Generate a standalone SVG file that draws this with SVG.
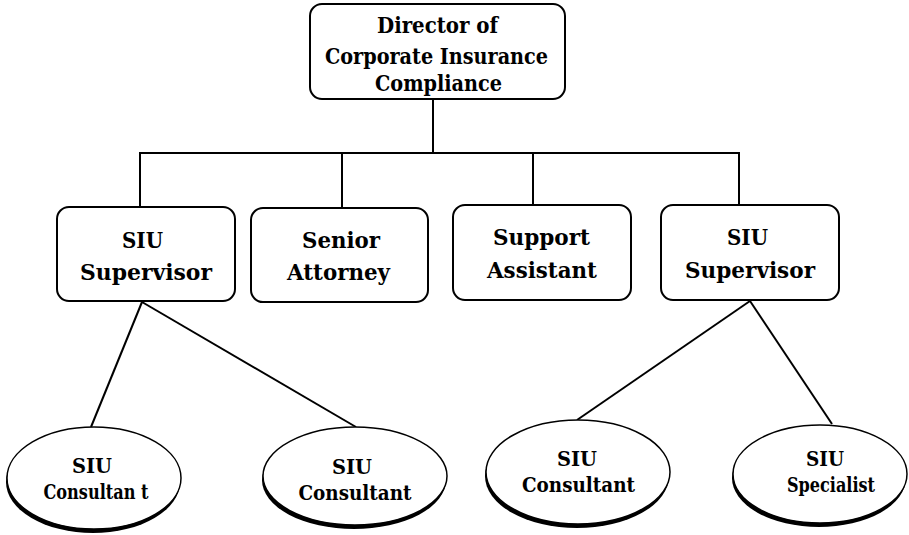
<svg xmlns="http://www.w3.org/2000/svg" width="909" height="535" viewBox="0 0 909 535">
<style>
.box{fill:#fff;stroke:#000;stroke-width:2}
.t{font-family:'DejaVu Serif Condensed','DejaVu Serif',serif;font-weight:bold;font-size:23px;text-anchor:middle;fill:#000}
.d{font-size:22px}
.e{font-family:'DejaVu Serif Condensed','DejaVu Serif',serif;font-weight:bold;font-size:21px;text-anchor:middle;fill:#000}
.sh{fill:#000}
.el{fill:#fff;stroke:#000;stroke-width:1.5}
.c{stroke:#000;stroke-width:2;fill:none}
</style>
<g id="connectors">
<line class="c" x1="433" y1="99" x2="433" y2="153"/>
<line class="c" x1="140" y1="153" x2="740" y2="153"/>
<line class="c" x1="140" y1="152" x2="140" y2="208"/>
<line class="c" x1="342" y1="152" x2="342" y2="208"/>
<line class="c" x1="533" y1="152" x2="533" y2="206"/>
<line class="c" x1="739" y1="152" x2="739" y2="206"/>
<line class="c" x1="142" y1="302" x2="91" y2="427"/>
<line class="c" x1="142" y1="302" x2="356" y2="427"/>
<line class="c" x1="750" y1="301" x2="577" y2="420"/>
<line class="c" x1="750" y1="301" x2="832" y2="424"/>
</g>
<g id="director">
<rect class="box" x="310" y="4" width="255" height="95" rx="12"/>
<text class="t d" x="437.5" y="33" textLength="121" lengthAdjust="spacingAndGlyphs">Director of</text>
<text class="t d" x="436.5" y="64" textLength="223" lengthAdjust="spacingAndGlyphs">Corporate Insurance</text>
<text class="t d" x="438.5" y="91" textLength="127" lengthAdjust="spacingAndGlyphs">Compliance</text>
</g>
<g id="siu-supervisor-left">
<rect class="box" x="57" y="207" width="178" height="94" rx="12"/>
<text class="t" x="142.5" y="248" textLength="41" lengthAdjust="spacingAndGlyphs">SIU</text>
<text class="t" x="146" y="280" textLength="132" lengthAdjust="spacingAndGlyphs">Supervisor</text>
</g>
<g id="senior-attorney">
<rect class="box" x="251" y="208" width="177" height="94" rx="12"/>
<text class="t" x="341" y="248" textLength="78" lengthAdjust="spacingAndGlyphs">Senior</text>
<text class="t" x="338.5" y="280" textLength="103" lengthAdjust="spacingAndGlyphs">Attorney</text>
</g>
<g id="support-assistant">
<rect class="box" x="453" y="205" width="178" height="95" rx="12"/>
<text class="t" x="541.5" y="245" textLength="97" lengthAdjust="spacingAndGlyphs">Support</text>
<text class="t" x="542" y="278" textLength="110" lengthAdjust="spacingAndGlyphs">Assistant</text>
</g>
<g id="siu-supervisor-right">
<rect class="box" x="661" y="205" width="178" height="95" rx="12"/>
<text class="t" x="747.5" y="245" textLength="41" lengthAdjust="spacingAndGlyphs">SIU</text>
<text class="t" x="750" y="278" textLength="130" lengthAdjust="spacingAndGlyphs">Supervisor</text>
</g>
<g id="siu-consultant-1">
<ellipse class="sh" cx="93" cy="482" rx="87" ry="51"/>
<ellipse class="el" cx="94" cy="478" rx="87" ry="51"/>
<text class="e" x="92" y="473" textLength="40" lengthAdjust="spacingAndGlyphs">SIU</text>
<text class="e" x="96" y="499" textLength="105" lengthAdjust="spacingAndGlyphs">Consultan t</text>
</g>
<g id="siu-consultant-2">
<ellipse class="sh" cx="354" cy="480" rx="92" ry="49"/>
<ellipse class="el" cx="355" cy="476" rx="92" ry="49"/>
<text class="e" x="352" y="474" textLength="40" lengthAdjust="spacingAndGlyphs">SIU</text>
<text class="e" x="355" y="500" textLength="113" lengthAdjust="spacingAndGlyphs">Consultant</text>
</g>
<g id="siu-consultant-3">
<ellipse class="sh" cx="577" cy="476" rx="92" ry="52"/>
<ellipse class="el" cx="578" cy="472" rx="92" ry="52"/>
<text class="e" x="577" y="466" textLength="40" lengthAdjust="spacingAndGlyphs">SIU</text>
<text class="e" x="578.5" y="492" textLength="113" lengthAdjust="spacingAndGlyphs">Consultant</text>
</g>
<g id="siu-specialist">
<ellipse class="sh" cx="819" cy="478" rx="87" ry="49"/>
<ellipse class="el" cx="820" cy="474" rx="87" ry="49"/>
<text class="e" x="825" y="466" textLength="38" lengthAdjust="spacingAndGlyphs">SIU</text>
<text class="e" x="831" y="492" textLength="88" lengthAdjust="spacingAndGlyphs">Specialist</text>
</g>
</svg>
